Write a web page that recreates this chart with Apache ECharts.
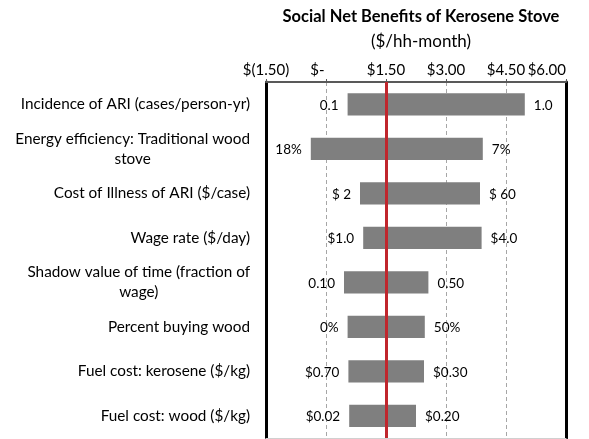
<!DOCTYPE html>
<html>
<head>
<meta charset="utf-8">
<script src="https://cdn.jsdelivr.net/npm/echarts@6/dist/echarts.min.js"></script>
<style>
  html, body { margin: 0; padding: 0; background: #fff; }
  #main { width: 589px; height: 439px; }
</style>
</head>
<body>
<div id="main"></div>
<script>
// tornado chart data
const categories = [
  'Incidence of ARI (cases/person-yr)',
  'Energy efficiency: Traditional wood\nstove',
  'Cost of Illness of ARI ($/case)',
  'Wage rate ($/day)',
  'Shadow value of time (fraction of\nwage)',
  'Percent buying wood',
  'Fuel cost: kerosene ($/kg)',
  'Fuel cost: wood ($/kg)'
]
const lowEnd = [0.54, -0.38, 0.85, 0.93, 0.45, 0.54, 0.56, 0.58]
const highEnd = [4.97, 3.92, 3.85, 3.89, 2.56, 2.47, 2.45, 2.25]
const lowLabels = ['0.1', '18%', '$ 2', '$1.0', '0.10', '0%', '$0.70', '$0.02']
const highLabels = ['1.0', '7%', '$ 60', '$4.0', '0.50', '50%', '$0.30', '$0.20']
const baseCase = 1.5
const axisMin = -1.5
const axisMax = 6
const axisStep = 1.5

const FONT = 'Lato, "Open Sans", sans-serif'

function money(v) {
  if (Math.abs(v) < 1e-9) return '{z|$-}'
  if (v < 0) return '$(' + Math.abs(v).toFixed(2) + ')'
  return '$' + v.toFixed(2)
}

let myChart = echarts.init(document.getElementById('main'))
let option = {
  animation: false,
  title: {
    text: 'Social Net Benefits of Kerosene Stove',
    subtext: '($/hh-month)',
    left: 421,
    top: 7,
    textAlign: 'center',
    padding: 0,
    itemGap: 5,
    textStyle: { fontFamily: FONT, fontSize: 16.5, fontWeight: 'bold', color: '#000', lineHeight: 20 },
    subtextStyle: { fontFamily: FONT, fontSize: 17, color: '#000', lineHeight: 20 }
  },
  grid: { left: 266, right: 23, top: 82, bottom: 1 },
  xAxis: [
    {
      type: 'value',
      position: 'top',
      min: axisMin,
      max: axisMax,
      interval: axisStep,
      axisLine: { show: true, lineStyle: { color: '#595959', width: 2 } },
      axisTick: { show: true, length: 3, lineStyle: { color: '#595959', width: 1 } },
      axisLabel: {
        margin: 4,
        fontFamily: FONT,
        fontSize: 15,
        color: '#000',
        alignMaxLabel: 'right',
        formatter: money,
        rich: { z: { fontFamily: FONT, fontSize: 15, color: '#000', padding: [0, 17, 0, 0] } }
      },
      splitLine: { show: true, lineStyle: { color: '#a6a6a6', type: [4, 3], width: 1 } }
    },
    {
      type: 'value',
      position: 'bottom',
      min: axisMin,
      max: axisMax,
      interval: axisStep,
      axisLine: { show: true, onZero: false, lineStyle: { color: '#d0d0d0', width: 1 } },
      axisTick: { show: false },
      axisLabel: { show: false },
      splitLine: { show: false }
    }
  ],
  yAxis: [
    {
      type: 'category',
      inverse: true,
      data: categories,
      axisLine: { show: true, onZero: false, lineStyle: { color: '#000', width: 3 } },
      axisTick: { show: false },
      axisLabel: {
        margin: 16,
        formatter: (v) => v.split('\n').map(s => '{c|' + s + '}').join('\n'),
        rich: {
          c: { align: 'center', fontFamily: FONT, fontSize: 15.3, color: '#000', lineHeight: 20 }
        }
      }
    },
    {
      type: 'category',
      inverse: true,
      position: 'right',
      data: categories,
      axisLine: { show: true, onZero: false, lineStyle: { color: '#000', width: 3 } },
      axisTick: { show: false },
      axisLabel: { show: false }
    }
  ],
  series: [
    {
      type: 'custom',
      xAxisIndex: 0,
      yAxisIndex: 0,
      encode: { x: [1, 2], y: 0 },
      data: categories.map((c, i) => [i, lowEnd[i], highEnd[i]]),
      renderItem: (params, api) => {
        const i = api.value(0)
        const a = api.coord([api.value(1), i])
        const b = api.coord([api.value(2), i])
        const h = api.size([0, 1])[1] * 0.5
        return {
          type: 'group',
          children: [
            {
              type: 'rect',
              shape: { x: a[0], y: a[1] - h / 2, width: b[0] - a[0], height: h },
              style: { fill: '#7f7f7f' }
            },
            {
              type: 'text',
              x: a[0] - 9,
              y: a[1] + 1,
              style: { text: lowLabels[i], align: 'right', verticalAlign: 'middle', fontFamily: FONT, fontSize: 13.5, fill: '#000' }
            },
            {
              type: 'text',
              x: b[0] + 9,
              y: a[1] + 1,
              style: { text: highLabels[i], align: 'left', verticalAlign: 'middle', fontFamily: FONT, fontSize: 13.5, fill: '#000' }
            }
          ]
        }
      },
      markLine: {
        silent: true,
        symbol: 'none',
        label: { show: false },
        lineStyle: { color: '#c0262d', width: 3, type: 'solid' },
        data: [{ xAxis: baseCase }]
      }
    }
  ]
}
myChart.setOption(option)

window.addEventListener('resize', () => {
  myChart.resize()
})
</script>
</body>
</html>
